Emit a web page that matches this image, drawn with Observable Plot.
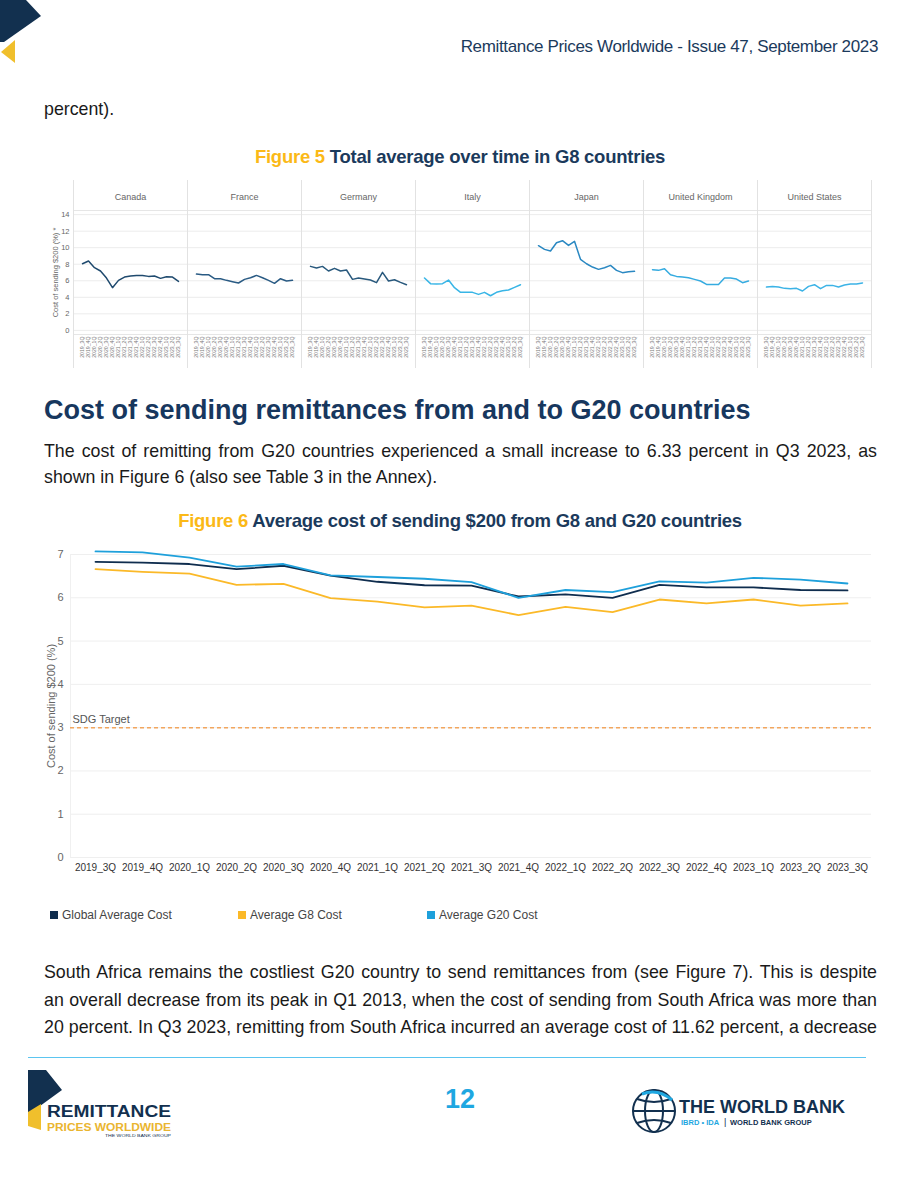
<!DOCTYPE html>
<html>
<head>
<meta charset="utf-8">
<script src="https://cdn.jsdelivr.net/npm/d3@7"></script>
<script src="https://cdn.jsdelivr.net/npm/@observablehq/plot@0.6"></script>
<style>
  html, body { margin: 0; padding: 0; background: #fff; }
  #page { position: relative; width: 920px; height: 1191px; overflow: hidden; font-family: "Liberation Sans", Arial, sans-serif; color: #1a1a1a; }
  .abs { position: absolute; }
  .hdr { right: 42px; top: 36px; font-size: 17px; line-height: 22px; color: #1b3a5c; letter-spacing: -0.35px; white-space: nowrap; }
  .body { left: 44px; width: 833px; font-size: 17.8px; text-align: justify; }
  .jl { display: block; text-align: justify; text-align-last: justify; white-space: nowrap; }
  .figtitle { left: 0; width: 920px; text-align: center; font-weight: bold; font-size: 18.5px; line-height: 22px; color: #1b3a5c; letter-spacing: -0.25px; }
  .figtitle .num { color: #fbb917; }
  h2 { margin: 0; }
  .legend { top: 906px; left: 50px; font-size: 12px; line-height: 18px; color: #444; }
  .legend span.item { position: absolute; white-space: nowrap; }
  .legend i { display: inline-block; width: 8px; height: 8px; margin-right: 4px; vertical-align: 0px; }
</style>
</head>
<body>
<div id="page">
  <!-- header decoration -->
  <svg class="abs" style="left:0;top:0" width="50" height="70">
    <polygon points="0,0 26,0 41,16 4,42 0,42" fill="#12304f"></polygon>
    <polygon points="15,40 15,63 1,52" fill="#f0bf2c"></polygon>
  </svg>
  <div class="abs hdr">Remittance Prices Worldwide - Issue 47, September 2023</div>
  <div class="abs body" style="top:96px;line-height:26px;">percent).</div>

  <div class="abs figtitle" style="top:146px;"><span class="num">Figure 5</span> Total average over time in G8 countries</div>
  <div class="abs" id="fig5" style="left:0;top:180px;"></div>

  <h2 class="abs" style="left:44px;top:393px;font-size:27px;line-height:34px;color:#17375e;font-weight:bold;white-space:nowrap;">Cost of sending remittances from and to G20 countries</h2>
  <div class="abs body" style="top:439px;line-height:25.5px;">The cost of remitting from G20 countries experienced a small increase to 6.33 percent in Q3 2023, as shown in Figure 6 (also see Table 3 in the Annex).</div>

  <div class="abs figtitle" style="top:510px;"><span class="num">Figure 6</span> Average cost of sending $200 from G8 and G20 countries</div>
  <div class="abs" id="fig6" style="left:0;top:540px;"></div>
  <div class="abs legend" id="legend6"></div>

  <div class="abs body" style="top:959px;line-height:27.5px;">
    <span class="jl">South Africa remains the costliest G20 country to send remittances from (see Figure 7). This is despite</span>
    <span class="jl">an overall decrease from its peak in Q1 2013, when the cost of sending from South Africa was more than</span>
    <span class="jl">20 percent. In Q3 2023, remitting from South Africa incurred an average cost of 11.62 percent, a decrease</span>
  </div>

  <!-- footer -->
  <div class="abs" style="left:28px;top:1057px;width:838px;height:1px;background:#5bc5f0;"></div>
  <svg class="abs" style="left:26px;top:1066px" width="150" height="75">
    <polygon points="2,4 20,4 36,24 14,40 2,50" fill="#12304f"></polygon>
    <polygon points="2,46 15,38 15,64 2,60" fill="#f0bf2c"></polygon>
    <text x="21" y="51" font-family="Liberation Sans, Arial" font-weight="bold" font-size="16" fill="#12304f" textLength="124" lengthAdjust="spacingAndGlyphs">REMITTANCE</text>
    <text x="21" y="64.5" font-family="Liberation Sans, Arial" font-weight="bold" font-size="11" fill="#eab530" textLength="124" lengthAdjust="spacingAndGlyphs">PRICES WORLDWIDE</text>
    <text x="79" y="71" font-family="Liberation Sans, Arial" font-size="4" fill="#12304f" textLength="66" lengthAdjust="spacingAndGlyphs">THE WORLD BANK GROUP</text>
  </svg>
  <div class="abs" style="left:420px;top:1083px;width:80px;text-align:center;font-weight:bold;font-size:27px;line-height:32px;color:#1ea7e1;">12</div>
  <svg class="abs" style="left:628px;top:1086px" width="250" height="52">
    <g fill="none" stroke="#12304f" stroke-width="2">
      <circle cx="26" cy="25" r="21"></circle>
      <ellipse cx="26" cy="25" rx="9" ry="21"></ellipse>
      <line x1="5" y1="25" x2="47" y2="25"></line>
      <path d="M9,13 Q26,19 43,13"></path>
      <path d="M9,37 Q26,31 43,37"></path>
    </g>
    <path d="M14,8 Q30,2 44,14" fill="none" stroke="#1ea7e1" stroke-width="3"></path>
    <text x="51" y="27" font-family="Liberation Sans, Arial" font-weight="bold" font-size="18" fill="#12304f">THE WORLD BANK</text>
    <text x="53" y="39" font-family="Liberation Sans, Arial" font-weight="bold" font-size="7.5" fill="#1ea7e1">IBRD • IDA</text>
    <text x="96" y="39" font-family="Liberation Sans, Arial" font-size="9" fill="#12304f">|</text>
    <text x="102" y="39" font-family="Liberation Sans, Arial" font-weight="bold" font-size="7.5" fill="#12304f">WORLD BANK GROUP</text>
  </svg>
</div>

<script>
// ---------- Data ----------
const quarters = ["2019_3Q","2019_4Q","2020_1Q","2020_2Q","2020_3Q","2020_4Q","2021_1Q","2021_2Q","2021_3Q","2021_4Q","2022_1Q","2022_2Q","2022_3Q","2022_4Q","2023_1Q","2023_2Q","2023_3Q"];

// Figure 5: G8 countries
const countries = ["Canada","France","Germany","Italy","Japan","United Kingdom","United States"];
const countryColors = ["#1f4a6e","#2a5b84","#29597d","#38b5e6","#2a88c2","#35abe0","#3cb3e6"];
const canada  = [8.06,8.39,7.58,7.18,6.33,5.16,6.05,6.45,6.57,6.65,6.65,6.53,6.57,6.29,6.49,6.45,5.93];
const france  = [6.81,6.73,6.73,6.25,6.25,6.05,5.89,5.73,6.17,6.37,6.65,6.37,6.05,5.69,6.25,5.97,6.05];
const germany = [7.74,7.54,7.74,7.18,7.50,7.18,7.30,6.17,6.33,6.21,6.09,5.77,7.02,5.97,6.13,5.81,5.52];
const italy   = [6.33,5.65,5.60,5.65,6.09,5.16,4.60,4.60,4.60,4.35,4.60,4.19,4.60,4.80,4.88,5.20,5.52];
const japan   = [10.24,9.80,9.60,10.60,10.85,10.28,10.77,8.59,8.06,7.66,7.38,7.58,7.86,7.26,6.98,7.10,7.14];
const uk      = [7.34,7.26,7.46,6.73,6.53,6.45,6.37,6.17,5.97,5.56,5.56,5.56,6.33,6.33,6.21,5.77,5.97];
const us      = [5.24,5.32,5.24,5.08,5.04,5.08,4.76,5.32,5.52,5.04,5.44,5.44,5.24,5.48,5.60,5.60,5.73];
const fig5Ticks = [0,2,4,6,8,10,12,14];
const fig5YLabel = "Cost of sending $200 (%) *";

// Figure 6: averages
const seriesNames = ["Global Average Cost","Average G8 Cost","Average G20 Cost"];
const seriesColors = ["#0f2d4e","#fbb928","#1ea0db"];
const globalAvg = [6.83,6.81,6.78,6.66,6.74,6.51,6.37,6.29,6.28,6.03,6.08,6.00,6.30,6.24,6.24,6.18,6.17];
const g8Avg     = [6.66,6.60,6.56,6.30,6.32,5.99,5.91,5.78,5.82,5.60,5.79,5.67,5.96,5.87,5.96,5.82,5.87];
const g20Avg    = [7.07,7.05,6.93,6.72,6.78,6.52,6.48,6.44,6.36,6.00,6.18,6.13,6.38,6.35,6.46,6.42,6.33];
const fig6Ticks = [0,1,2,3,4,5,6,7];
const sdgTarget = 3;
const sdgLabel = "SDG Target";
const fig6YLabel = "Cost of sending $200 (%)";

const FONT = "Liberation Sans, Arial, sans-serif";

// ---------- Figure 5 ----------
const g8Series = [canada, france, germany, italy, japan, uk, us];
const fig5Data = countries.flatMap((c, i) => g8Series[i].map((v, j) => ({country: c, quarter: quarters[j], value: v})));

const fig5 = Plot.plot({
  width: 920, height: 188,
  marginLeft: 71, marginRight: 48, marginTop: 30, marginBottom: 34,
  style: {fontFamily: FONT, background: "transparent"},
  fx: {domain: countries, padding: 0},
  x: {type: "point", domain: quarters, padding: 0.5},
  y: {domain: [-0.5, 14.5]},
  color: {domain: countries, range: countryColors},
  marks: [
    Plot.gridY(fig5Ticks, {stroke: "#ececec", strokeOpacity: 1}),
    Plot.ruleY([14.5], {stroke: "#e6e6e6"}),
    Plot.ruleY([-0.5], {stroke: "#e6e6e6"}),
    Plot.frame({anchor: "left", stroke: "#e2e2e2", insetTop: -30, insetBottom: -34}),
    Plot.frame({anchor: "right", stroke: "#e2e2e2", insetTop: -30, insetBottom: -34}),
    Plot.line(fig5Data, {fx: "country", x: "quarter", y: "value", stroke: "country", strokeWidth: 1.5}),
    Plot.axisFx({anchor: "top", label: null, tickSize: 0, tickPadding: 11, fontSize: 9, fill: "#666"}),
    Plot.axisX({anchor: "bottom", label: null, tickSize: 0, tickPadding: 2, tickRotate: -90, fontSize: 5.2, fill: "#777"}),
    Plot.axisY({anchor: "left", ticks: fig5Ticks, tickSize: 0, tickPadding: 4, fontSize: 7.5, fill: "#666",
      label: fig5YLabel, labelAnchor: "center", labelOffset: 21, labelArrow: "none"})
  ]
});
document.getElementById("fig5").appendChild(fig5);

// ---------- Figure 6 ----------
const fig6Values = [globalAvg, g8Avg, g20Avg];
const fig6Data = seriesNames.flatMap((s, i) => fig6Values[i].map((v, j) => ({series: s, quarter: quarters[j], value: v})));

const fig6 = Plot.plot({
  width: 920, height: 341,
  marginLeft: 70, marginRight: 49, marginTop: 14, marginBottom: 24,
  style: {fontFamily: FONT, background: "transparent"},
  x: {type: "point", domain: quarters, padding: 0.5},
  y: {domain: [0, 7]},
  color: {domain: seriesNames, range: seriesColors},
  marks: [
    Plot.gridY(fig6Ticks, {stroke: "#efefef", strokeOpacity: 1}),
    Plot.frame({anchor: "left", stroke: "#f0f0f0"}),
    Plot.ruleY([sdgTarget], {stroke: "#f2a65e", strokeWidth: 1.5, strokeDasharray: "4,3"}),
    Plot.text([sdgLabel], {frameAnchor: "left", y: [sdgTarget], text: d => d, textAnchor: "start", dx: 2, dy: -8, fontSize: 11, fill: "#555"}),
    Plot.line(fig6Data, {x: "quarter", y: "value", stroke: "series", strokeWidth: 1.8}),
    Plot.axisX({label: null, tickSize: 0, tickPadding: 6, fontSize: 10, fill: "#333"}),
    Plot.axisY({ticks: fig6Ticks, tickFormat: "d", tickSize: 0, tickPadding: 7, fontSize: 11, fill: "#666",
      label: fig6YLabel, labelAnchor: "center", labelOffset: 23, labelArrow: "none"})
  ]
});
document.getElementById("fig6").appendChild(fig6);

// ---------- Legend ----------
const legendX = [0, 188, 377];
const legend = document.getElementById("legend6");
seriesNames.forEach((name, i) => {
  const item = document.createElement("span");
  item.className = "item";
  item.style.left = legendX[i] + "px";
  item.innerHTML = `<i style="background:${seriesColors[i]}"></i>${name}`;
  legend.appendChild(item);
});
</script>
</body>
</html>
